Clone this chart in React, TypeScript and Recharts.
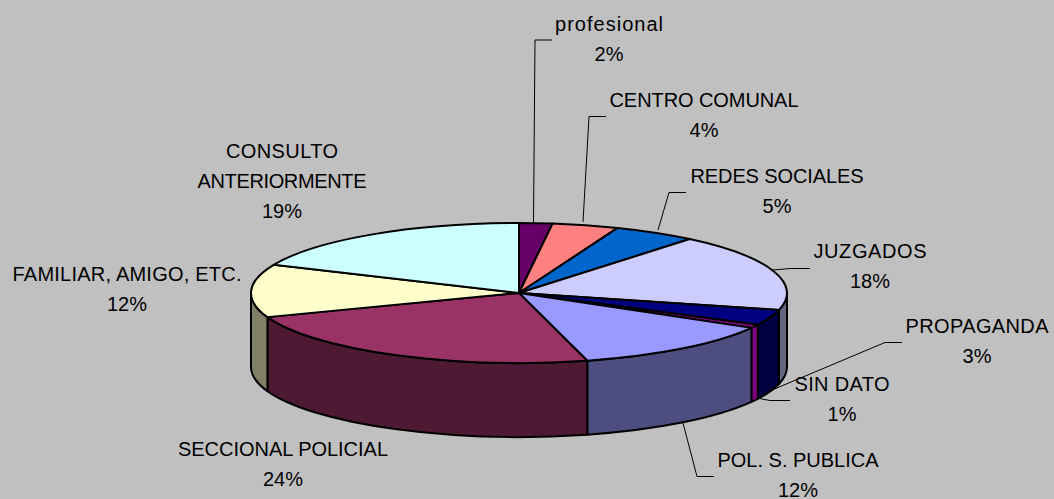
import React from "react";
import { PieChart, Pie, Cell } from "recharts";

const categories = ["profesional", "CENTRO COMUNAL", "REDES SOCIALES", "JUZGADOS", "PROPAGANDA", "SIN DATO", "POL. S. PUBLICA", "SECCIONAL POLICIAL", "FAMILIAR, AMIGO, ETC.", "CONSULTO ANTERIORMENTE"];
const shares = [2.0, 4.0, 5.0, 17.9, 3.6, 0.8, 12.6, 23.5, 12.2, 18.4];
const percentLabels = ["2%", "4%", "5%", "18%", "3%", "1%", "12%", "24%", "12%", "19%"];
const topColors = ["#660066", "#FF8080", "#0066CC", "#CCCCFF", "#000080", "#800080", "#9999FF", "#993366", "#FFFFCC", "#CCFFFF"];
const sideColors = ["#330033", "#804040", "#003366", "#666680", "#000040", "#800080", "#4D4D80", "#4D1933", "#808066", "#668080"];

const rows = categories.map((name, i) => ({ name, value: shares[i] }));

const SQUASH = 70 / 268;
const DEPTH = 74;

// Label placement: text lines (with their drawn widths), centre x, first baseline, and leader line
const labelLayout: { x: number; y: number; lines: [string, number][]; leader?: number[][] }[] = [
  { x: 609, y: 31, lines: [["profesional", 108]], leader: [[533.5, 222], [535, 40], [552, 40]] },
  { x: 704, y: 107, lines: [["CENTRO COMUNAL", 189]], leader: [[583, 222], [589, 116.5], [606, 116.5]] },
  { x: 777, y: 183, lines: [["REDES SOCIALES", 173]], leader: [[658, 230], [669, 192.5], [686, 192.5]] },
  { x: 870, y: 258, lines: [["JUZGADOS", 113]], leader: [[773, 270], [790, 268.5], [810, 268.5]] },
  { x: 977, y: 333, lines: [["PROPAGANDA", 143]], leader: [[772, 390], [885, 342.5], [902, 342.5]] },
  { x: 842, y: 391, lines: [["SIN DATO", 95]], leader: [[757, 398], [770, 400.5], [790, 400.5]] },
  { x: 798, y: 467, lines: [["POL. S. PUBLICA", 161]], leader: [[683, 423], [697, 476.5], [714, 476.5]] },
  { x: 283, y: 456, lines: [["SECCIONAL POLICIAL", 210]] },
  { x: 127, y: 281, lines: [["FAMILIAR, AMIGO, ETC.", 229]] },
  { x: 282, y: 158, lines: [["CONSULTO", 112], ["ANTERIORMENTE", 169]] },
];

const rad = (d: number) => (d * Math.PI) / 180;

function SliceShape(props: any) {
  const { cx, cy, outerRadius, startAngle, endAngle, index, fill } = props;
  const rx = outerRadius;
  const ry = outerRadius * SQUASH;
  const t0 = 90 - startAngle;
  const t1 = 90 - endAngle;
  const pt = (t: number, dy = 0) => [cx + rx * Math.sin(rad(t)), cy - ry * Math.cos(rad(t)) + dy];
  const [x0, y0] = pt(t0);
  const [x1, y1] = pt(t1);
  const large = t1 - t0 > 180 ? 1 : 0;
  const top = `M${cx},${cy}L${x0},${y0}A${rx},${ry} 0 ${large} 1 ${x1},${y1}Z`;
  const w0 = Math.max(t0, 90);
  const w1 = Math.min(t1, 270);
  let wall = null as string | null;
  if (w1 > w0) {
    const [a, b] = pt(w0);
    const [c, d] = pt(w1);
    const [e, f] = pt(w1, DEPTH);
    const [g, h] = pt(w0, DEPTH);
    wall = `M${a},${b}A${rx},${ry} 0 0 1 ${c},${d}L${e},${f}A${rx},${ry} 0 0 0 ${g},${h}Z`;
  }
  return (
    <g>
      {wall && <path d={wall} fill={sideColors[index]} stroke="#000" strokeWidth={2} strokeLinejoin="round" />}
      <path d={top} fill={fill} stroke="#000" strokeWidth={2} strokeLinejoin="round" />
    </g>
  );
}

const FONT = "'Liberation Sans', Arial, sans-serif";

function SliceLabel(props: any) {
  const { index } = props;
  const l = labelLayout[index];
  return (
    <g>
      {l.leader && (
        <polyline points={l.leader.map((p) => p.join(",")).join(" ")} fill="none" stroke="#000" strokeWidth={1} />
      )}
      {l.lines.map(([s, w], i) => (
        <text key={i} x={l.x} y={l.y + i * 30} textAnchor="middle" fontFamily={FONT} fontSize={20} fill="#000" textLength={w} lengthAdjust="spacing">
          {s}
        </text>
      ))}
      <text x={l.x} y={l.y + l.lines.length * 30} textAnchor="middle" fontFamily={FONT} fontSize={20} fill="#000">
        {percentLabels[index]}
      </text>
    </g>
  );
}

export default function App() {
  return (
    <div style={{ position: "absolute", left: 0, top: 0, width: 1054, height: 499, background: "#C0C0C0", overflow: "hidden" }}>
      <PieChart width={1054} height={499} margin={{ top: 0, right: 0, bottom: 0, left: 0 }}>
        <Pie
          data={rows}
          dataKey="value"
          nameKey="name"
          cx={519}
          cy={293}
          innerRadius={0}
          outerRadius={268}
          startAngle={90}
          endAngle={-270}
          paddingAngle={0}
          isAnimationActive={false}
          shape={SliceShape}
          label={SliceLabel}
          labelLine={false}
          stroke="#000"
        >
          {rows.map((_, i) => (
            <Cell key={i} fill={topColors[i]} />
          ))}
        </Pie>
      </PieChart>
    </div>
  );
}
